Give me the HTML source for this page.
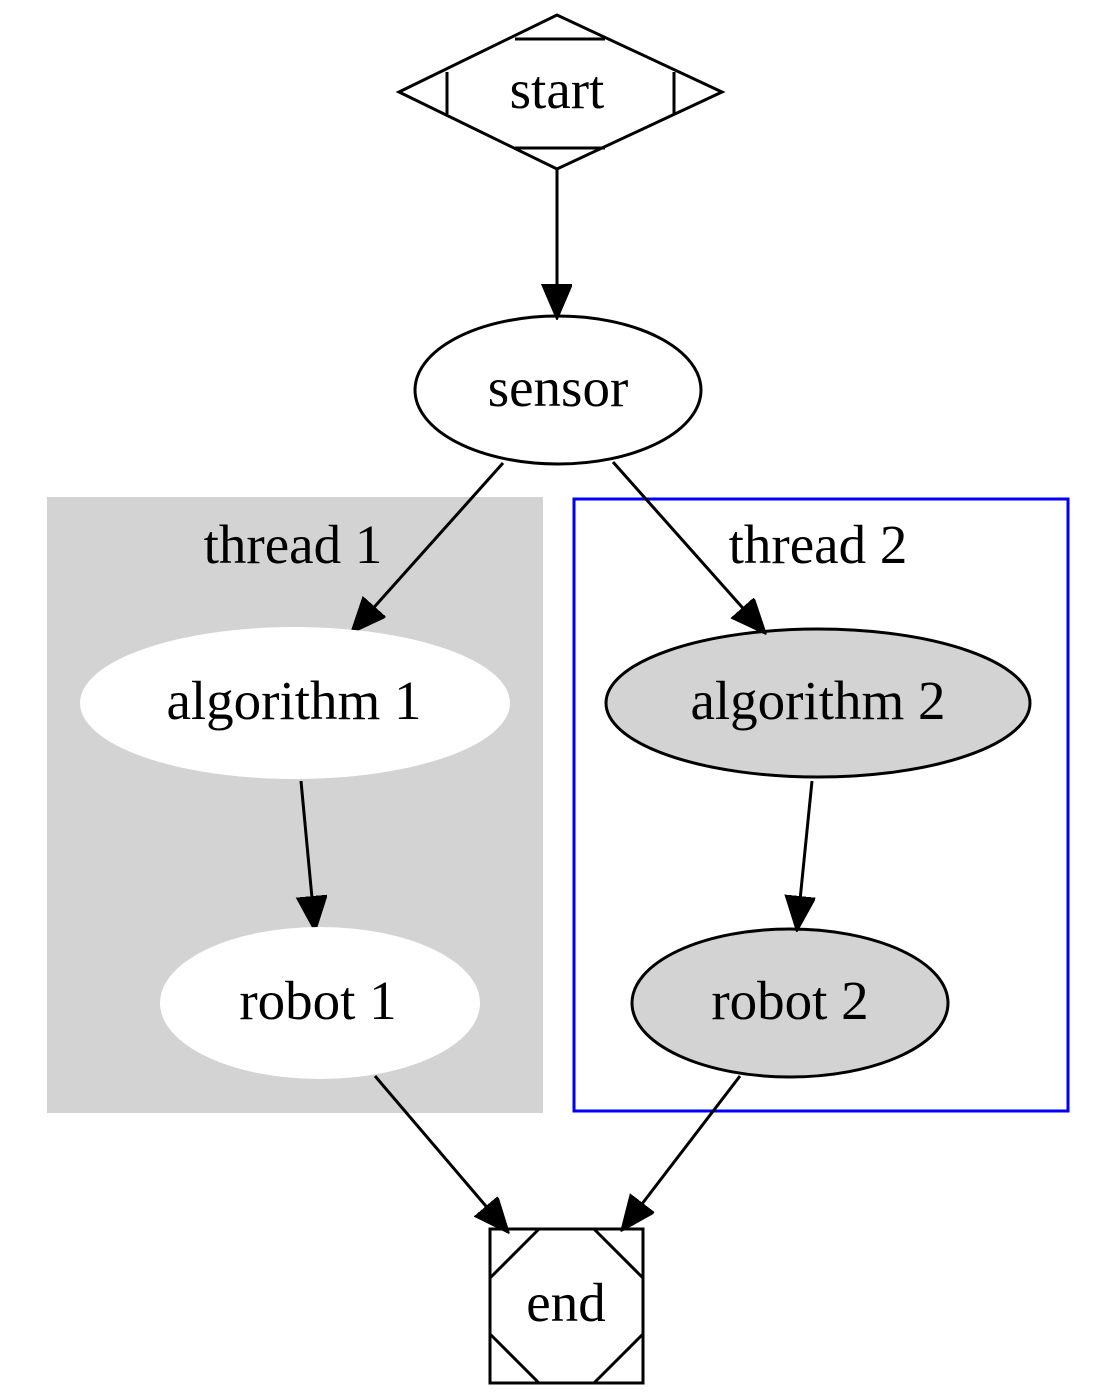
<!DOCTYPE html>
<html><head><meta charset="utf-8"><style>html,body{margin:0;padding:0;background:#fff}svg{display:block}</style></head>
<body>
<svg width="1117" height="1400" viewBox="0 0 1117 1400" xmlns="http://www.w3.org/2000/svg" font-family="'Liberation Serif', serif" font-size="55">
<defs>
<marker id="a" markerUnits="userSpaceOnUse" markerWidth="36" markerHeight="32" refX="34" refY="15" orient="auto">
<path d="M0,0 L35,15 L0,30 z" fill="#000" stroke="#000" stroke-width="2"/>
</marker>
</defs>
<rect x="47" y="497" width="496" height="616" fill="#d3d3d3"/>
<rect x="574" y="499" width="494" height="612" fill="none" stroke="#0000ff" stroke-width="3"/>
<text x="293" y="563" text-anchor="middle">thread 1</text>
<text x="818" y="563" text-anchor="middle">thread 2</text>
<g fill="none" stroke="#000" stroke-width="3">
<polygon points="399,92 557,15 722,92 557,169"/>
<line x1="515" y1="39" x2="605" y2="39"/>
<line x1="515" y1="148" x2="605" y2="148"/>
<line x1="447" y1="72" x2="447" y2="114"/>
<line x1="674" y1="72" x2="674" y2="114"/>
<ellipse cx="558" cy="390" rx="143" ry="74" fill="#fff"/>
<ellipse cx="818" cy="703" rx="212" ry="74" fill="#d3d3d3"/>
<ellipse cx="790" cy="1003" rx="158" ry="74" fill="#d3d3d3"/>
<rect x="490" y="1229" width="153" height="154" fill="#fff"/>
<polyline points="539,1229 490,1278"/>
<polyline points="594,1229 643,1278"/>
<polyline points="490,1334 539,1383"/>
<polyline points="643,1334 594,1383"/>
<line x1="557" y1="169" x2="557" y2="318" marker-end="url(#a)"/>
<line x1="503" y1="463" x2="352" y2="632" marker-end="url(#a)"/>
<line x1="613" y1="462" x2="765" y2="633" marker-end="url(#a)"/>
<line x1="301" y1="781" x2="315" y2="930" marker-end="url(#a)"/>
<line x1="812" y1="781" x2="797" y2="930" marker-end="url(#a)"/>
<line x1="375" y1="1076" x2="508" y2="1232" marker-end="url(#a)"/>
<line x1="740" y1="1076" x2="622" y2="1230" marker-end="url(#a)"/>
</g>
<ellipse cx="295" cy="703" rx="215" ry="76" fill="#fff"/>
<ellipse cx="320" cy="1003" rx="160" ry="76" fill="#fff"/>
<g text-anchor="middle">
<text x="557" y="108">start</text>
<text x="558" y="406">sensor</text>
<text x="294" y="719">algorithm 1</text>
<text x="818" y="719">algorithm 2</text>
<text x="318" y="1019">robot 1</text>
<text x="790" y="1019">robot 2</text>
<text x="566" y="1321">end</text>
</g>
</svg>
</body></html>
